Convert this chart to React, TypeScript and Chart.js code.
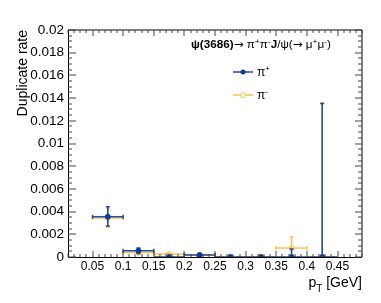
import React, { useEffect, useRef } from 'react';
import { Chart, registerables } from 'chart.js';

Chart.register(...registerables);

// ---- data ----
const binCenters = [0.075, 0.125, 0.175, 0.225, 0.275, 0.325, 0.375, 0.425];
const binHalfWidth = [0.025, 0.025, 0.025, 0.025, 0.025, 0.025, 0.025, 0.025];

const piPlus = [0.00355, 0.00055, 0, 0.00018, 0, 0, 0, 0];
const piPlusErrUp = [0.00088, 0.00025, 0, 0.0001, 0, 0, 0.0007, 0.01352];
const piPlusErrDown = [0.00082, 0.00025, 0, 0.0001, 0, 0, 0, 0];

const piMinus = [0.00343, 0.0004, 0.00026, 0.00015, 0, 0, 0.00079, 0];
const piMinusErrUp = [0.0008, 0.0002, 0.00008, 0.00008, 0, 0, 0.00097, 0.0136];
const piMinusErrDown = [0.0008, 0.0002, 0.00008, 0.00008, 0, 0, 0.00079, 0];

const xTickValues = [0.05, 0.1, 0.15, 0.2, 0.25, 0.3, 0.35, 0.4, 0.45];
const xTickLabels = ['0.05', '0.1', '0.15', '0.2', '0.25', '0.3', '0.35', '0.4', '0.45'];
const yTickValues = [0, 0.002, 0.004, 0.006, 0.008, 0.01, 0.012, 0.014, 0.016, 0.018, 0.02];
const yTickLabels = ['0', '0.002', '0.004', '0.006', '0.008', '0.01', '0.012', '0.014', '0.016', '0.018', '0.02'];

const X_MIN = 0.01;
const X_MAX = 0.49;
const Y_MIN = 0;
const Y_MAX = 0.02;
const X_MINOR = 0.01;
const Y_MINOR = 0.0005;

const yTitle = 'Duplicate rate';
const seriesNames = ['π', 'π'];
const seriesSup = ['+', '-'];

// ---- styles ----
const FONT = '"Liberation Sans", Arial, Helvetica, sans-serif';
const ARROW_FONT = '"DejaVu Sans", sans-serif';
const BLUE_LINE = '#1d4aa3';
const BLUE_MARK = '#0c3a9c';
const ORANGE = '#fcc253';

type Series = {
  x: number[];
  hw: number[];
  y: number[];
  up: number[];
  dn: number[];
  color: string;
};

const seriesList: Series[] = [
  { x: binCenters, hw: binHalfWidth, y: piPlus, up: piPlusErrUp, dn: piPlusErrDown, color: BLUE_LINE },
  { x: binCenters, hw: binHalfWidth, y: piMinus, up: piMinusErrUp, dn: piMinusErrDown, color: ORANGE },
];

function drawErrors(chart: any, s: Series) {
  const ctx = chart.ctx as CanvasRenderingContext2D;
  const xs = chart.scales.x;
  const ys = chart.scales.y;
  const cap = 2;
  ctx.save();
  ctx.strokeStyle = s.color;
  ctx.lineWidth = 1.5;
  for (let i = 0; i < s.x.length; i++) {
    const yv = s.y[i];
    const py = ys.getPixelForValue(yv);
    const x0 = xs.getPixelForValue(s.x[i] - s.hw[i]);
    const x1 = xs.getPixelForValue(s.x[i] + s.hw[i]);
    const px = xs.getPixelForValue(s.x[i]);
    ctx.beginPath();
    ctx.moveTo(x0, py);
    ctx.lineTo(x1, py);
    ctx.stroke();
    if (yv > 0) {
      ctx.beginPath();
      ctx.moveTo(x0, py - cap);
      ctx.lineTo(x0, py + cap);
      ctx.moveTo(x1, py - cap);
      ctx.lineTo(x1, py + cap);
      ctx.stroke();
    }
    const top = Math.min(Y_MAX, yv + s.up[i]);
    const bot = Math.max(Y_MIN, yv - s.dn[i]);
    if (top > yv) {
      const pt = ys.getPixelForValue(top);
      ctx.beginPath();
      ctx.moveTo(px, py);
      ctx.lineTo(px, pt);
      ctx.moveTo(px - cap, pt);
      ctx.lineTo(px + cap, pt);
      ctx.stroke();
    }
    if (bot < yv) {
      const pb = ys.getPixelForValue(bot);
      ctx.beginPath();
      ctx.moveTo(px, py);
      ctx.lineTo(px, pb);
      if (bot > Y_MIN) {
        ctx.moveTo(px - cap, pb);
        ctx.lineTo(px + cap, pb);
      }
      ctx.stroke();
    }
  }
  ctx.restore();
}

type Part = { t: string; bold?: boolean; sup?: boolean; arrow?: boolean };

function partFont(p: Part, size: number) {
  const fs = p.sup ? Math.round(size * 0.7) : size;
  return `${p.bold ? 'bold ' : ''}${fs}px ${p.arrow ? ARROW_FONT : FONT}`;
}

function drawRich(ctx: CanvasRenderingContext2D, parts: Part[], x: number, y: number, size: number, targetW?: number) {
  let total = 0;
  for (const p of parts) {
    ctx.font = partFont(p, size);
    total += ctx.measureText(p.t).width;
  }
  const sc = targetW ? targetW / total : 1;
  ctx.save();
  ctx.translate(x, y);
  ctx.scale(sc, 1);
  let cx = 0;
  for (const p of parts) {
    ctx.font = partFont(p, size);
    ctx.fillText(p.t, cx, p.sup ? -size * 0.4 : 0);
    cx += ctx.measureText(p.t).width;
  }
  ctx.restore();
}

const rootPlugin = {
  id: 'rootStyle',
  beforeDatasetDraw(chart: any, args: any) {
    drawErrors(chart, seriesList[args.index]);
  },
  afterDraw(chart: any) {
    const ctx = chart.ctx as CanvasRenderingContext2D;
    const { left, right, top, bottom } = chart.chartArea;
    const xs = chart.scales.x;
    const ys = chart.scales.y;
    ctx.save();

    // frame
    ctx.strokeStyle = '#000';
    ctx.lineWidth = 1;
    ctx.beginPath();
    ctx.moveTo(left, top);
    ctx.lineTo(right, top);
    ctx.lineTo(right, bottom);
    ctx.stroke();
    ctx.beginPath();
    ctx.moveTo(left + 0.5, top);
    ctx.lineTo(left + 0.5, bottom + 0.5);
    ctx.lineTo(right, bottom + 0.5);
    ctx.stroke();

    // ticks
    ctx.strokeStyle = '#444';
    ctx.lineWidth = 1;
    ctx.beginPath();
    const nx = Math.round((X_MAX - X_MIN) / X_MINOR);
    for (let k = 0; k <= nx; k++) {
      const v = X_MIN + k * X_MINOR;
      const major = xTickValues.some((t) => Math.abs(t - v) < 1e-9);
      const len = major ? 6 : 3;
      const p = Math.round(xs.getPixelForValue(v));
      ctx.moveTo(p, bottom);
      ctx.lineTo(p, bottom - len);
      ctx.moveTo(p, top);
      ctx.lineTo(p, top + len);
    }
    const ny = Math.round((Y_MAX - Y_MIN) / Y_MINOR);
    for (let k = 0; k <= ny; k++) {
      const v = Y_MIN + k * Y_MINOR;
      const major = yTickValues.some((t) => Math.abs(t - v) < 1e-9);
      const p = Math.round(ys.getPixelForValue(v));
      ctx.moveTo(left, p);
      ctx.lineTo(left + (major ? 8 : 4), p);
      ctx.moveTo(right, p);
      ctx.lineTo(right - (major ? 7 : 4), p);
    }
    ctx.stroke();

    // axis titles
    ctx.fillStyle = '#000';
    ctx.save();
    ctx.translate(27, top);
    ctx.rotate(-Math.PI / 2);
    ctx.font = `14px ${FONT}`;
    ctx.textAlign = 'right';
    ctx.textBaseline = 'alphabetic';
    ctx.fillText(yTitle, 0, 0);
    ctx.restore();

    // x title: p_T [GeV], right aligned
    ctx.textBaseline = 'alphabetic';
    ctx.textAlign = 'left';
    ctx.font = `14px ${FONT}`;
    const wP = ctx.measureText('p').width;
    ctx.font = `10px ${FONT}`;
    const wT = ctx.measureText('T').width;
    ctx.font = `14px ${FONT}`;
    const wRest = ctx.measureText(' [GeV]').width;
    let sx = right - (wP + wT + wRest);
    ctx.fillText('p', sx, 287);
    sx += wP;
    ctx.font = `10px ${FONT}`;
    ctx.fillText('T', sx, 292);
    sx += wT;
    ctx.font = `14px ${FONT}`;
    ctx.fillText(' [GeV]', sx, 287);

    // header text
    drawRich(
      ctx,
      [
        { t: 'ψ(3686)', bold: true },
        { t: '→', arrow: true },
        { t: ' π' },
        { t: '+', sup: true },
        { t: 'π' },
        { t: '-', sup: true },
        { t: 'J', bold: true },
        { t: '/ψ(' },
        { t: '→', arrow: true },
        { t: ' μ' },
        { t: '+', sup: true },
        { t: 'μ' },
        { t: '-', sup: true },
        { t: ')' },
      ],
      191,
      48,
      11,
      140
    );

    // legend
    const legY = [72, 95];
    const cols = [BLUE_LINE, ORANGE];
    for (let i = 0; i < 2; i++) {
      const y = legY[i];
      ctx.strokeStyle = cols[i];
      ctx.lineWidth = 1.5;
      ctx.beginPath();
      ctx.moveTo(233, y);
      ctx.lineTo(253, y);
      ctx.stroke();
      ctx.beginPath();
      ctx.arc(243, y, 2.5, 0, Math.PI * 2);
      if (i === 0) {
        ctx.fillStyle = BLUE_MARK;
        ctx.fill();
      } else {
        ctx.fillStyle = '#fff';
        ctx.fill();
        ctx.lineWidth = 1;
        ctx.stroke();
      }
      ctx.fillStyle = '#000';
      drawRich(ctx, [{ t: seriesNames[i] }, { t: seriesSup[i], sup: true }], 257, y + 4, 12);
    }
    ctx.restore();
  },
};

export default function App() {
  const ref = useRef<HTMLCanvasElement | null>(null);
  useEffect(() => {
    if (!ref.current) return;
    const chart = new Chart(ref.current, {
      type: 'scatter',
      data: {
        datasets: [
          {
            label: 'π+',
            data: binCenters.map((x, i) => ({ x, y: piPlus[i] })),
            pointStyle: 'circle',
            pointRadius: 2.5,
            pointBackgroundColor: BLUE_MARK,
            pointBorderColor: BLUE_MARK,
            pointBorderWidth: 1,
            showLine: false,
          },
          {
            label: 'π-',
            data: binCenters.map((x, i) => ({ x, y: piMinus[i] })),
            pointStyle: 'circle',
            pointRadius: 2.5,
            pointBackgroundColor: 'rgba(255,255,255,0)',
            pointBorderColor: ORANGE,
            pointBorderWidth: 1,
            showLine: false,
          },
        ],
      },
      options: {
        animation: false,
        responsive: false,
        devicePixelRatio: 1,
        layout: { padding: { left: 0, top: 30, right: 19, bottom: 0 } },
        plugins: { legend: { display: false }, tooltip: { enabled: false } },
        events: [],
        scales: {
          x: {
            type: 'linear',
            min: X_MIN,
            max: X_MAX,
            grid: { display: false, drawTicks: false, tickLength: 0 },
            border: { display: false },
            afterBuildTicks: (s: any) => {
              s.ticks = xTickValues.map((v) => ({ value: v }));
            },
            afterFit: (s: any) => {
              s.height = 46;
            },
            ticks: {
              autoSkip: false,
              maxRotation: 0,
              padding: 2,
              color: '#000',
              font: { size: 12, family: FONT },
              callback: (_v: any, i: number) => xTickLabels[i],
            },
          },
          y: {
            type: 'linear',
            min: Y_MIN,
            max: Y_MAX,
            grid: { display: false, drawTicks: false, tickLength: 0 },
            border: { display: false },
            afterBuildTicks: (s: any) => {
              s.ticks = yTickValues.map((v) => ({ value: v }));
            },
            afterFit: (s: any) => {
              s.width = 68;
            },
            ticks: {
              autoSkip: false,
              padding: 4,
              color: '#000',
              font: { size: 13.5, family: FONT },
              callback: (_v: any, i: number) => yTickLabels[i],
            },
          },
        },
      },
      plugins: [rootPlugin],
    } as any);
    return () => chart.destroy();
  }, []);
  return (
    <div style={{ position: 'fixed', left: 0, top: 0, width: 381, height: 303, background: '#fff' }}>
      <canvas ref={ref} width={381} height={303} style={{ width: 381, height: 303, display: 'block' }} />
    </div>
  );
}
